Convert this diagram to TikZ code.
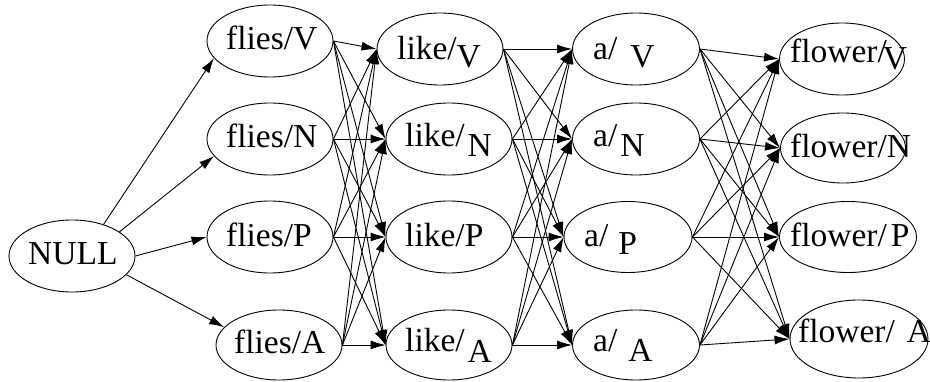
\documentclass[tikz,border=0pt]{standalone}
\usepackage{fontspec}
\setmainfont{Liberation Serif}
\usetikzlibrary{arrows.meta,shapes.geometric}
\begin{document}
\begin{tikzpicture}[x=1pt,y=-1pt,
  st/.style={draw,ellipse,inner sep=0pt,minimum width=126pt,minimum height=72pt,line width=0.9pt},
  lbl/.style={anchor=base west,inner sep=0pt,font=\fontsize{33.5}{36}\selectfont},
  edge/.style={line width=0.9pt,-{Latex[length=15pt,width=9pt]}}]
\useasboundingbox (0,0) rectangle (930,382);
% ellipses
\node[st] (null) at (72,256) {};
\node[st] (fV) at (270,41) {};
\node[st] (fN) at (270,139) {};
\node[st] (fP) at (270,237) {};
\node[st,minimum height=70pt] (fA) at (279,345) {};
\node[st] (lV) at (440,49) {};
\node[st] (lN) at (449,139) {};
\node[st] (lP) at (449,237) {};
\node[st,minimum height=70pt] (lA) at (449,345) {};
\node[st,minimum width=127pt] (aV) at (636,49) {};
\node[st,minimum width=127pt] (aN) at (636,139) {};
\node[st,minimum width=128pt,minimum height=71pt] (aP) at (628,237) {};
\node[st,minimum width=127pt,minimum height=70pt] (aA) at (636,345) {};
\node[st,minimum width=125pt] (wV) at (842,59) {};
\node[st,minimum width=125pt,minimum height=70pt] (wN) at (843,148) {};
\node[st,minimum width=137pt,minimum height=71pt] (wP) at (848,237) {};
\node[st,minimum width=138pt,minimum height=78pt] (wA) at (859,339) {};
% labels
\node[lbl] (tnull) at (28,265) {NULL};
\node[lbl] (tfV) at (226,50) {flies/V};
\node[lbl] (tfN) at (226,148) {flies/N};
\node[lbl] (tfP) at (226,247) {flies/P};
\node[lbl] (tfA) at (234,353) {flies/A};
\node[lbl] (tlV) at (397,60) {like/\raisebox{-8pt}{V}};
\node[lbl] (tlN) at (405,147) {like/\hspace{3pt}\raisebox{-10pt}{N}};
\node[lbl] (tlP) at (405,247) {like/P};
\node[lbl] (tlA) at (405,352) {like/\hspace{3pt}\raisebox{-11pt}{A}};
\node[lbl] (taV) at (593,60) {a/\hspace{13pt}\raisebox{-8pt}{V}};
\node[lbl] (taN) at (593,147) {a/\hspace{3pt}\raisebox{-10pt}{N}};
\node[lbl] (taP) at (584,247) {a/\hspace{10pt}\raisebox{-8pt}{P}};
\node[lbl] (taA) at (593,352) {a/\hspace{11pt}\raisebox{-10pt}{A}};
\node[lbl] (twV) at (790,63) {flower/\hspace{-4pt}\raisebox{-7pt}{V}};
\node[lbl] (twN) at (790,158) {flower/N};
\node[lbl] (twP) at (790,247) {flower/\hspace{4pt}P};
\node[lbl] (twA) at (798,343) {flower/\hspace{12pt}A};
% edges from NULL
\draw[edge] (null.45) -- (fV.197);
\draw[edge] (null.27) -- (fN.197);
\draw[edge] (null.0) -- (fP.180);
\draw[edge] (null.-19) -- (fA.162);
% layer edges
\foreach \s in {V,N,P,A}{
  \foreach \t in {V,N,P,A}{
    \draw[edge] (f\s.east) -- (l\t.west);
    \draw[edge] (l\s.east) -- (a\t.west);
    \draw[edge] (a\s.east) -- (w\t.west);
  }
}
\end{tikzpicture}
\end{document}
